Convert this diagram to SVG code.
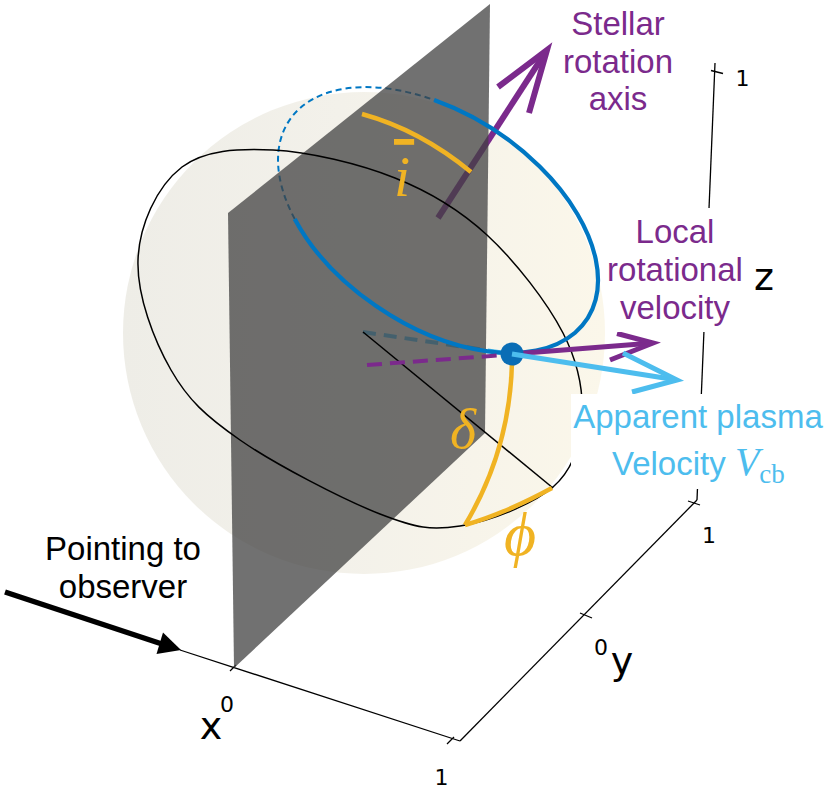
<svg xmlns="http://www.w3.org/2000/svg" width="830" height="793" viewBox="0 0 830 793">
<defs>
<linearGradient id="sph" x1="0" y1="0" x2="1" y2="0">
<stop offset="0" stop-color="#eeede7"/>
<stop offset="0.45" stop-color="#f3f1ea"/>
<stop offset="1" stop-color="#fbf7ea"/>
</linearGradient>
</defs>
<style>
.ax{stroke:#000;stroke-width:1.3;fill:none}
.tk{font-family:"DejaVu Sans",sans-serif;font-size:22px;fill:#000;text-anchor:middle}
.al{font-family:"DejaVu Sans",sans-serif;font-size:38px;fill:#000;text-anchor:middle}
.lab{font-family:"Liberation Sans",Arial,sans-serif;font-size:33px;text-anchor:middle}
.pur{fill:#7b2a8c}
.lb{fill:#4dbdee}
.math{font-family:"Liberation Serif","DejaVu Serif",serif;font-style:italic;fill:#f0b323}
.yel{stroke:#f0b323;stroke-width:4.5;fill:none;stroke-linecap:butt}
.box{fill:#fff}
</style>
<rect width="830" height="793" fill="#fff"/>
<g id="axes">
<line class="ax" x1="180" y1="650" x2="460" y2="741"/>
<line class="ax" x1="460" y1="741" x2="697" y2="500"/>
<line class="ax" x1="697" y1="500" x2="715" y2="63"/>
<line class="ax" x1="230" y1="671" x2="236" y2="665"/>
<line class="ax" x1="447" y1="744" x2="454" y2="737"/>
<line class="ax" x1="580" y1="613" x2="592" y2="618"/>
<line class="ax" x1="688" y1="501" x2="700" y2="505"/>
<line class="ax" x1="711" y1="70.5" x2="723" y2="73.5"/>
</g>
<g id="sphere">
<circle cx="364" cy="333" r="241" fill="url(#sph)"/>
</g>
<g id="back">
<path d="M294.7,218.9 A179,106 33.8 0 1 434.1,100" fill="none" stroke="#0077c3" stroke-width="2" stroke-dasharray="6 4"/>
<line x1="363" y1="332" x2="512" y2="354" stroke="#4dbdee" stroke-width="4" stroke-dasharray="13 8"/>
</g>
<g id="rotation-axis">
<line x1="438" y1="218" x2="545" y2="53" stroke="#7b2a8c" stroke-width="6"/>
<polyline points="498,87 547,50 529,113" fill="none" stroke="#7b2a8c" stroke-width="6" stroke-linejoin="miter"/>
</g>
<g id="plane">
<polygon points="490,4 485,433 234,668 228,213" fill="#424242" fill-opacity="0.75"/>
</g>
<g id="front">
<path d="M273,150 C308.8,151.7 359.3,163.8 395,178 C430.7,192.2 459,209.2 487,235 C515,260.8 547.2,302.2 563,333 C578.8,363.8 583.7,394.3 582,420 C580.3,445.7 573.3,469.3 553,487 C532.7,504.7 488.8,521.5 460,526 C431.2,530.5 416.7,528.3 380,514 C343.3,499.7 274.5,464 240,440 C205.5,416 188,399.7 171,370 C154,340.3 136.8,295.7 138,260 C139.2,226 156,187 182,167 C205,150 237.2,148.3 273,150 Z" fill="none" stroke="#000" stroke-width="1.5"/>
<line x1="363" y1="332" x2="553" y2="488" stroke="#000" stroke-width="1.5"/>
<path d="M434.1,100 A179,106 33.8 1 1 294.7,218.9" fill="none" stroke="#0077c3" stroke-width="4.2"/>
<path class="yel" d="M362,114 Q420,130 471,172" stroke-width="5"/>
<path class="yel" d="M512,362 Q510,450 465,525"/>
<path class="yel" d="M465,525 Q505,513.5 552,488"/>
<line x1="367" y1="365" x2="505" y2="355" stroke="#7b2a8c" stroke-width="4" stroke-dasharray="15 8"/>
</g>
<g id="velocity-arrows">
<line x1="512" y1="354" x2="650" y2="343.3" stroke="#7b2a8c" stroke-width="5"/>
<polyline points="617,333.5 653,343 610,360" fill="none" stroke="#7b2a8c" stroke-width="5"/>
<circle id="point" cx="512" cy="354" r="11.5" fill="#0a6db5"/>
<line x1="512" y1="354" x2="674" y2="379.5" stroke="#4dbdee" stroke-width="5"/>
<polyline points="623,353 677,380 632,392" fill="none" stroke="#4dbdee" stroke-width="5"/>
</g>
<g id="observer-arrow">
<line x1="5" y1="592" x2="165" y2="645" stroke="#000" stroke-width="5.5"/>
<polygon points="181,650 163,632.5 156.5,654" fill="#000"/>
</g>
<g id="labels">
<rect class="box" x="606" y="208" width="142" height="124"/>
<rect class="box" x="571" y="394" width="259" height="95"/>
<text class="lab pur" x="618" y="35">Stellar</text>
<text class="lab pur" x="618" y="72.5">rotation</text>
<text class="lab pur" x="618" y="110">axis</text>
<text class="lab pur" x="675" y="242.7">Local</text>
<text class="lab pur" x="675" y="280.7">rotational</text>
<text class="lab pur" x="675" y="318.7">velocity</text>
<text class="lab lb" x="698" y="428">Apparent plasma</text>
<text class="lab lb" x="612" y="475" style="text-anchor:start">Velocity <tspan font-family="Liberation Serif, serif" font-style="italic" font-size="40">V</tspan><tspan font-family="Liberation Serif, serif" font-size="27" dy="8">cb</tspan></text>
<text class="lab" x="123" y="560" fill="#000">Pointing to</text>
<text class="lab" x="123" y="598" fill="#000">observer</text>
<text class="math" x="394" y="196" font-size="58" letter-spacing="4" style="text-decoration:overline">i</text>
<text class="math" x="450" y="448" font-size="56">δ</text>
<text class="math" x="504" y="555" font-size="62">ϕ</text>
<text class="tk" x="227" y="712">0</text>
<text class="tk" x="441.5" y="785">1</text>
<text class="tk" x="601" y="655">0</text>
<text class="tk" x="709" y="543">1</text>
<text class="tk" x="742.5" y="86">1</text>
<text class="al" x="211" y="739">x</text>
<text class="al" x="622" y="674">y</text>
<text class="al" x="764" y="290">z</text>
</g>
</svg>
